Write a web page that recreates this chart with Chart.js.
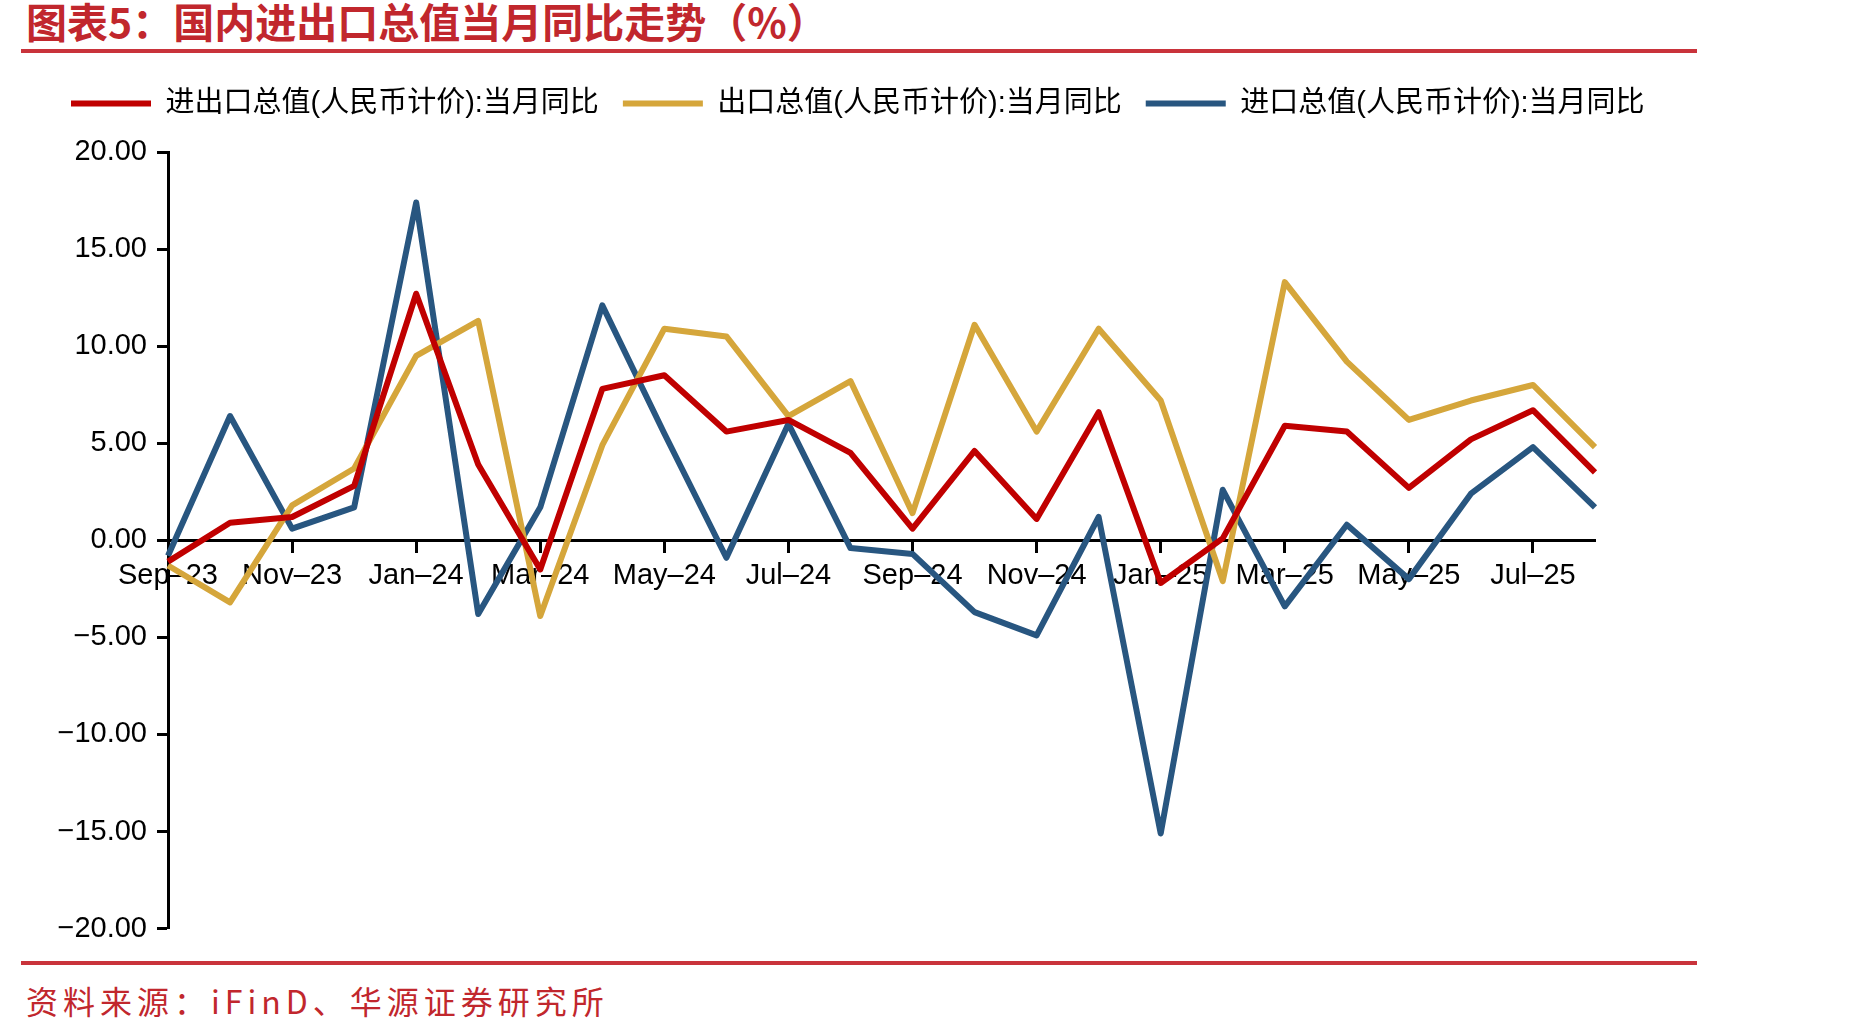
<!DOCTYPE html>
<html lang="zh-CN">
<head>
    <meta charset="UTF-8">
    <title>图表5：国内进出口总值当月同比走势（%）</title>
    <script src="https://cdn.jsdelivr.net/npm/chart.js@4.4.1/dist/chart.umd.min.js"></script>
    <style>
        html, body {
            margin: 0;
            padding: 0;
            width: 1852px;
            height: 1035px;
            overflow: hidden;
            background: #fff;
            position: relative;
            font-family: "Noto Sans CJK SC", "Liberation Sans", sans-serif;
        }

        .title {
            position: absolute;
            left: 26px;
            top: -4px;
            font-size: 41px;
            line-height: 48px;
            font-weight: 700;
            color: #c1272d;
            white-space: nowrap;
        }

        .rule {
            position: absolute;
            left: 21px;
            width: 1676px;
            height: 4px;
            background: #c9333b;
        }

        .source {
            position: absolute;
            left: 26px;
            top: 980px;
            font-size: 32px;
            line-height: 40px;
            letter-spacing: 5px;
            color: #c1272d;
            white-space: nowrap;
        }

        #wrap {
            position: absolute;
            left: 0;
            top: 60px;
            width: 1700px;
            height: 896px;
        }
    </style>
</head>
<body>

<div class="title">图表5：国内进出口总值当月同比走势（%）</div>
<div class="rule" style="top: 49px"></div>

<div id="wrap">
    <canvas id="myChart"></canvas>
</div>

<div class="rule" style="top: 961px"></div>
<div class="source">资料来源：iFinD、华源证券研究所</div>

<script>
    // monthly yoy, %
    const months = ['Sep–23', 'Oct–23', 'Nov–23', 'Dec–23', 'Jan–24', 'Feb–24', 'Mar–24', 'Apr–24',
        'May–24', 'Jun–24', 'Jul–24', 'Aug–24', 'Sep–24', 'Oct–24', 'Nov–24', 'Dec–24',
        'Jan–25', 'Feb–25', 'Mar–25', 'Apr–25', 'May–25', 'Jun–25', 'Jul–25', 'Aug–25'];
    const totalYoy = [-1.1, 0.9, 1.2, 2.8, 12.7, 3.9, -1.5, 7.8, 8.5, 5.6, 6.2, 4.5,
        0.6, 4.6, 1.1, 6.6, -2.2, 0.1, 5.9, 5.6, 2.7, 5.2, 6.7, 3.5];
    const exportYoy = [-1.3, -3.2, 1.8, 3.7, 9.5, 11.3, -3.9, 4.9, 10.9, 10.5, 6.4, 8.2,
        1.4, 11.1, 5.6, 10.9, 7.2, -2.1, 13.3, 9.2, 6.2, 7.2, 8.0, 4.8];
    const importYoy = [-0.8, 6.4, 0.6, 1.7, 17.4, -3.8, 1.7, 12.1, 5.5, -0.9, 6.0, -0.4,
        -0.7, -3.7, -4.9, 1.2, -15.1, 2.6, -3.4, 0.8, -2.0, 2.4, 4.8, 1.7];
    const seriesNames = ['进出口总值(人民币计价):当月同比', '出口总值(人民币计价):当月同比', '进口总值(人民币计价):当月同比'];
    const yTicks = [-20, -15, -10, -5, 0, 5, 10, 15, 20];

    const axisFont = {family: '"Liberation Sans", Arial, sans-serif', size: 29};

    // keep legend on one row (it runs past the plot's right edge) and leave room under it
    const legendGap = {
        id: 'legendGap',
        beforeInit(chart) {
            const fit = chart.legend.fit;
            chart.legend.fit = function () {
                this.maxWidth = chart.width;
                fit.call(this);
                this.height += 24;
            };
        },
        afterLayout(chart) {
            chart.legend.right = chart.width;
        }
    };

    function line(label, data, color) {
        return {
            label,
            data,
            borderColor: color,
            backgroundColor: color,
            borderWidth: 6,
            borderJoinStyle: 'round',
            pointRadius: 0,
            tension: 0
        };
    }

    const ctx = document.getElementById('myChart').getContext('2d');
    new Chart(ctx, {
        type: 'line',
        data: {
            labels: months,
            datasets: [
                line(seriesNames[0], totalYoy, '#c00000'),
                line(seriesNames[1], exportYoy, '#d5a63b'),
                line(seriesNames[2], importYoy, '#285680')
            ]
        },
        options: {
            responsive: true,
            maintainAspectRatio: false,
            animation: false,
            layout: {
                padding: {left: 47, right: 105, top: 5, bottom: 20}
            },
            plugins: {
                legend: {
                    position: 'top',
                    align: 'start',
                    labels: {
                        usePointStyle: true,
                        pointStyle: 'line',
                        pointStyleWidth: 80,
                        padding: 24,
                        color: '#000',
                        font: {family: '"Liberation Sans", "Noto Sans CJK SC", sans-serif', size: 29}
                    }
                },
                tooltip: {enabled: false}
            },
            scales: {
                x: {
                    type: 'category',
                    position: {y: 0},
                    offset: false,
                    border: {color: '#000', width: 3},
                    grid: {
                        drawOnChartArea: false,
                        tickLength: 11,
                        tickWidth: 3,
                        tickColor: '#000'
                    },
                    ticks: {
                        autoSkip: false,
                        maxRotation: 0,
                        padding: 7,
                        color: '#000',
                        font: axisFont,
                        callback: (v, i) => i % 2 === 0 ? months[i] : null
                    }
                },
                y: {
                    min: -20,
                    max: 20,
                    afterFit: (scale) => { scale.width = 121; },
                    afterBuildTicks: (scale) => { scale.ticks = yTicks.map(v => ({value: v})); },
                    border: {color: '#000', width: 3},
                    grid: {
                        drawOnChartArea: false,
                        tickLength: 11,
                        tickWidth: 3,
                        tickColor: '#000'
                    },
                    ticks: {
                        padding: 10,
                        color: '#000',
                        font: axisFont,
                        callback: (v) => (v < 0 ? '−' : '') + Math.abs(v).toFixed(2)
                    }
                }
            }
        },
        plugins: [legendGap]
    });
</script>
</body>
</html>
